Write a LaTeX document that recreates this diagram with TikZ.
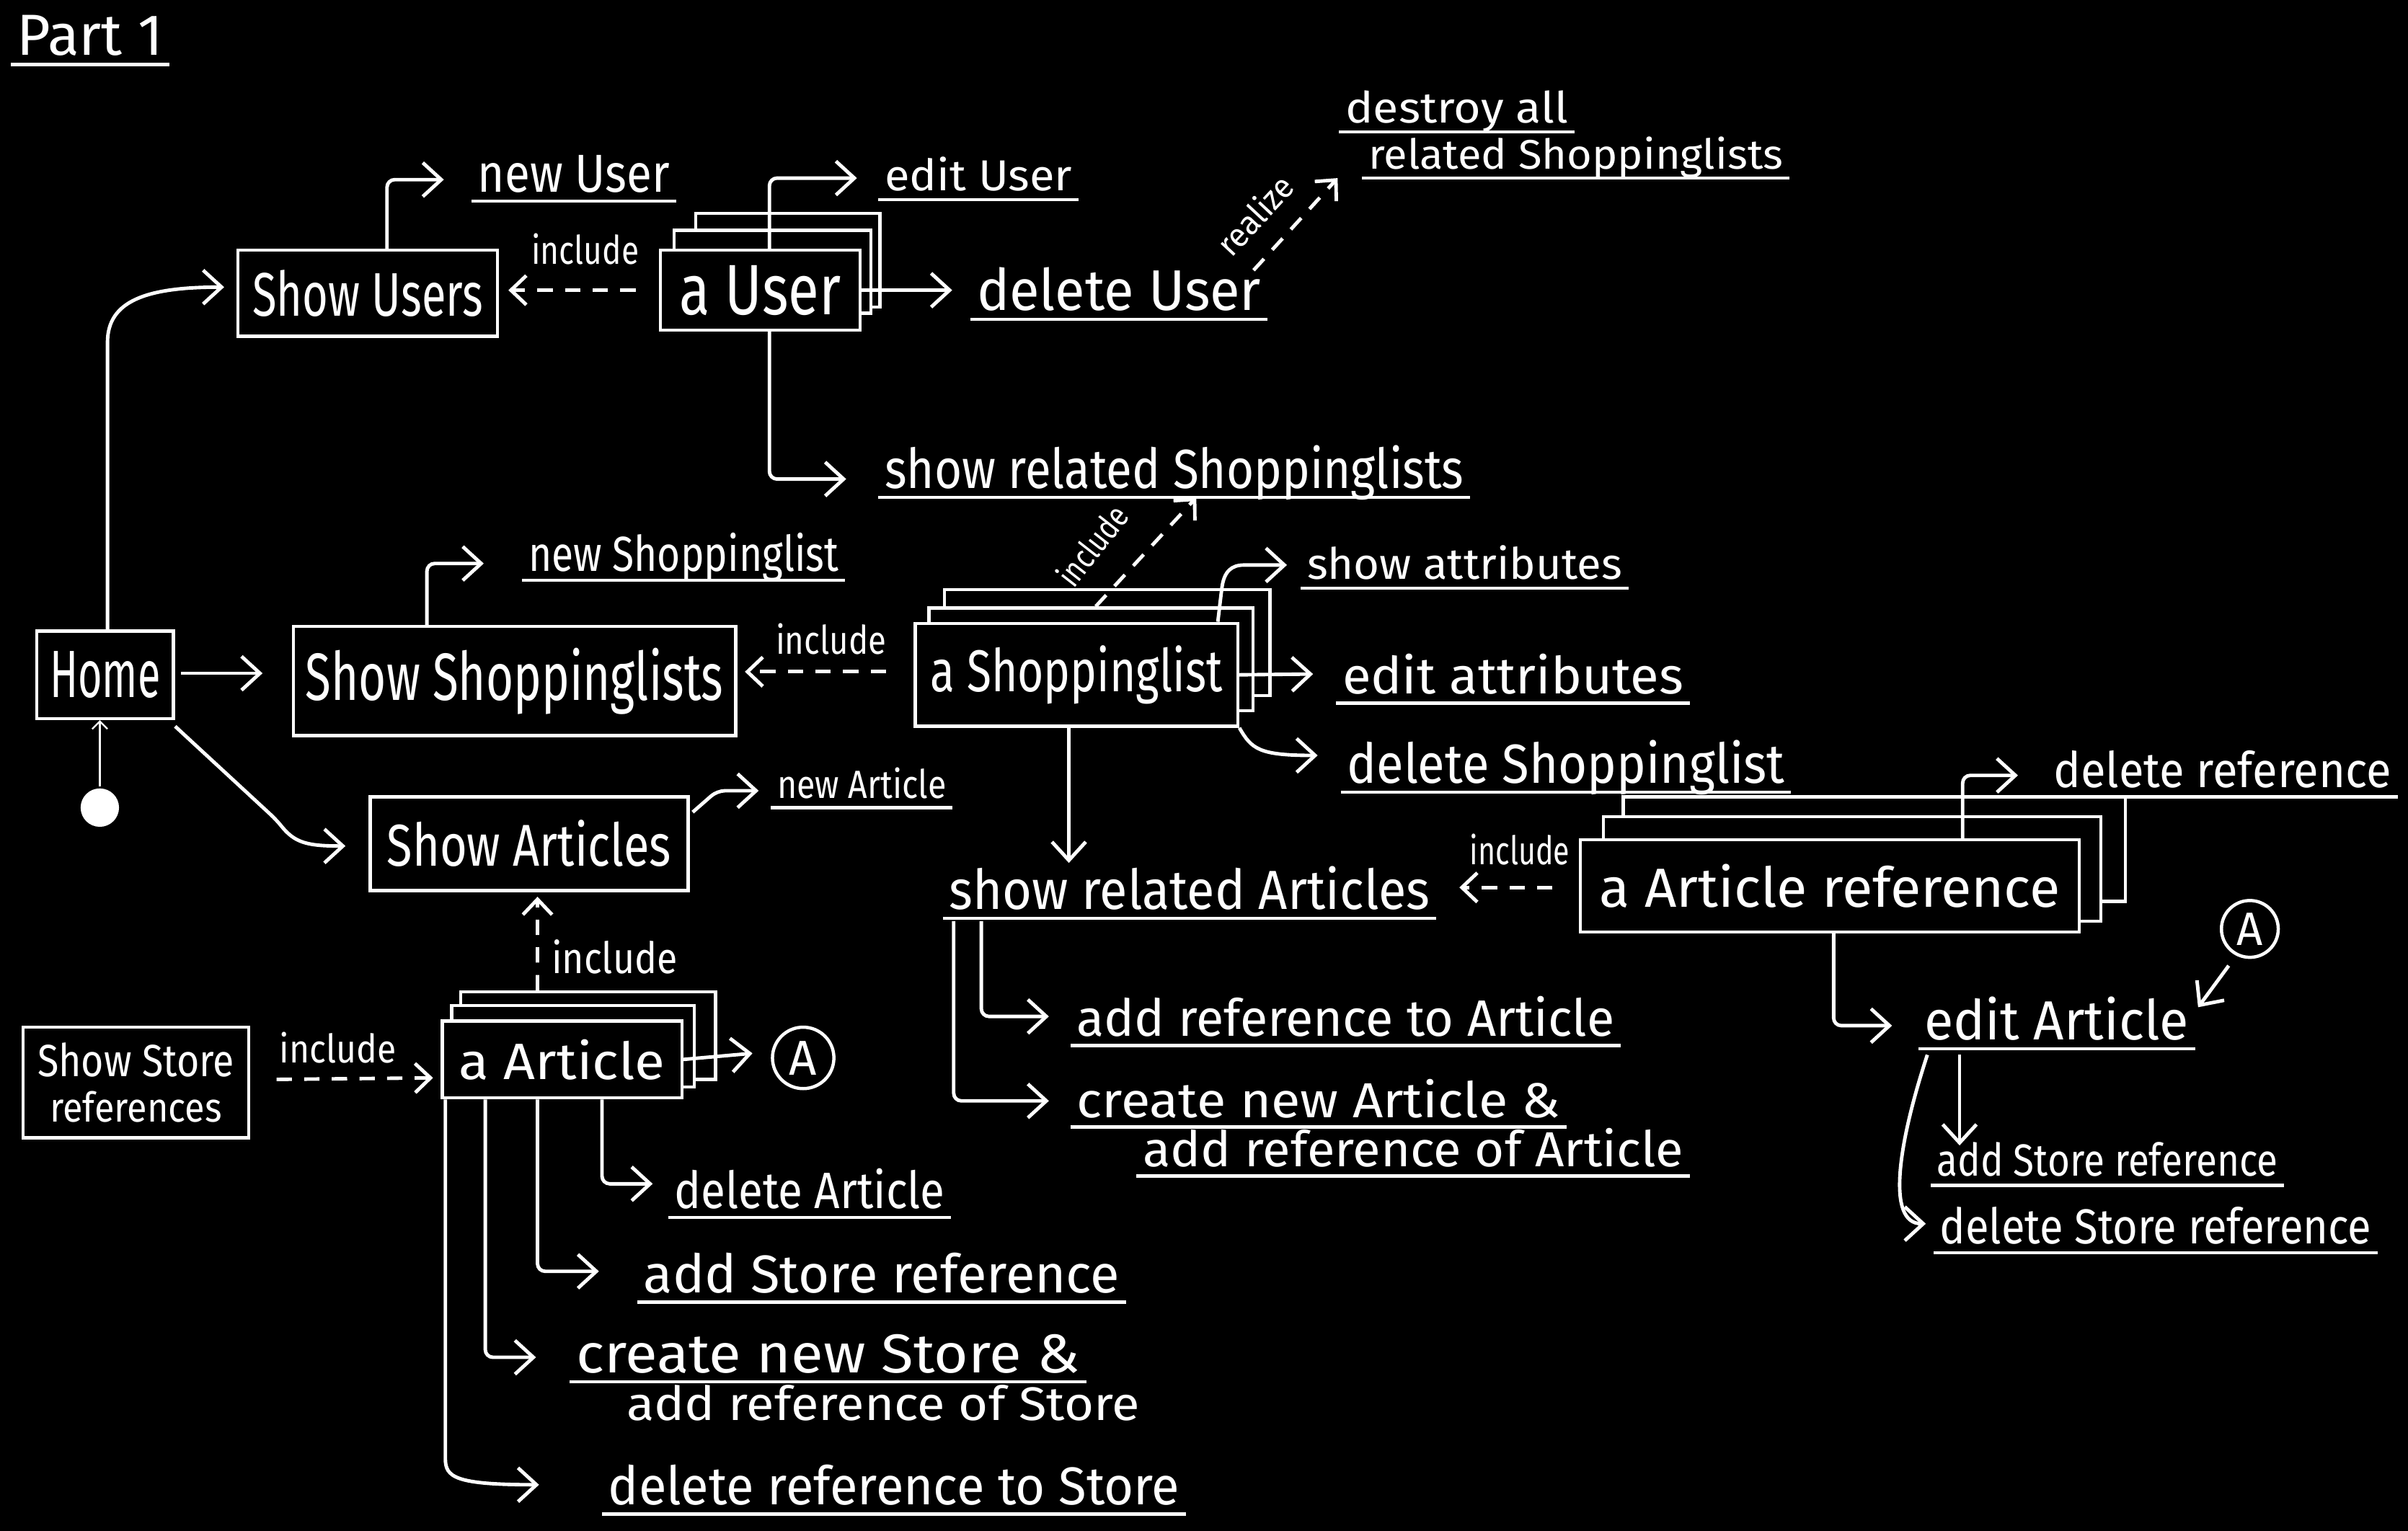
\documentclass[tikz,border=0pt]{standalone}
\usepackage{graphicx}
\usepackage{fontspec}
\setmainfont{Fira Sans}
\usetikzlibrary{arrows.meta,calc}
\newlength\pxu
\setlength\pxu{0.02cm}
\newcommand\hw[3]{\resizebox{#1\pxu}{#2\pxu}{#3}}
\begin{document}
\begin{tikzpicture}[x=0.02cm,y=-0.02cm,color=white,line width=1.3pt,
  box/.style={draw=white,fill=black,inner sep=0pt,line width=1.2pt},
  lbl/.style={inner xsep=0pt,inner ysep=0pt,anchor=base west},
  rlbl/.style={inner sep=0pt,anchor=center},
  ul/.style={append after command={($(\tikzlastnode.base west)+(-3,6)$) edge[draw=white,line width=1.2pt,-] ($(\tikzlastnode.base east)+(3,6)$)}},
  arr/.style={rounded corners=0.1cm,-{Straight Barb[length=0.24cm,width=0.44cm]}},
  dsh/.style={dash pattern=on 0.2cm off 0.16cm,-{Straight Barb[length=0.2cm,width=0.38cm]}}]
\fill[black] (0,0) rectangle (1568,997);
\useasboundingbox (0,0) rectangle (1568,997);

% title
\node[lbl,ul] (p1) at (10,36) {\hw{95}{26}{Part 1}};

% Home
\node[box,minimum width=89\pxu,minimum height=57\pxu] (h) at (68.5,439.5) {\hw{72}{30}{Home}};
\node[circle,fill=white,inner sep=0pt,minimum size=25\pxu] (dot) at (65,526) {};
\draw[line width=0.6pt,-{Straight Barb[length=0.1cm,width=0.2cm]}] (dot.north) -- (h.south -| dot.north);

% Users
\node[box,minimum width=169\pxu,minimum height=56\pxu] (su) at (239.5,191) {\hw{150}{30}{Show Users}};
\node[lbl,ul] (nu) at (310,125) {\hw{125}{24}{new User}};
\node[box,minimum width=120\pxu,minimum height=61\pxu] (au3) at (513,169.5) {};
\node[box,minimum width=128\pxu,minimum height=54\pxu] (au2) at (503,177) {};
\node[box,minimum width=130\pxu,minimum height=52\pxu] (au) at (495,189) {\hw{105}{32}{a User}};
\node[lbl] (inc1) at (345,172) {\hw{70}{20}{include}};
\node[lbl,ul] (eu) at (575,124) {\hw{122}{22}{edit User}};
\node[lbl,ul] (du) at (635,202) {\hw{185}{28}{delete User}};
\node[lbl,ul] (da) at (875,80) {\hw{145}{21}{destroy all}};
\node[lbl,ul] (rsl) at (890,110) {\hw{270}{21}{related Shoppinglists}};
\node[rlbl,rotate=47] (rl) at (817,140) {\hw{62}{17}{realize}};
\node[lbl,ul] (srsl) at (575,318) {\hw{377}{28}{show related Shoppinglists}};

\draw[arr] ($(h.north)+(1.5,0)$) -- (70,228) .. controls (70,196) and (95,187) .. ($(su.west)+(-8,-4)$);
\draw[arr] ($(su.north)+(12.5,0)$) |- ($(nu.base west)+(-21,-8)$);
\draw[dsh] ($(au.west)+(-15,0)$) -- ($(su.east)+(6,-2)$);
\draw[arr] ($(au.north)+(6,0)$) |- ($(eu.base west)+(-17,-8)$);
\draw[arr] (au.east) -- ($(du.base west)+(-15,-13)$);
\draw[arr] ($(au.south)+(6,0)$) |- ($(srsl.base west)+(-24,-6)$);
\draw[dsh] ($(du.base east)+(-6,-26)$) -- ($(rsl.base west)+(-19,6)$);

% Shoppinglists
\node[box,minimum width=288\pxu,minimum height=71\pxu] (ssl) at (335,443.5) {\hw{272}{34}{Show Shoppinglists}};
\node[lbl,ul] (nsl) at (343,372) {\hw{202}{25}{new Shoppinglist}};
\node[box,minimum width=212\pxu,minimum height=69\pxu] (asl3) at (721,418.5) {};
\node[box,minimum width=211\pxu,minimum height=67\pxu] (asl2) at (710.5,429.5) {};
\node[box,minimum width=210\pxu,minimum height=67\pxu] (asl) at (701,439.5) {\hw{190}{30}{a Shoppinglist}};
\node[lbl] (inc2) at (504,426) {\hw{72}{20}{include}};
\node[rlbl,rotate=52] (inc3) at (711,355) {\hw{60}{17}{include}};
\node[lbl,ul] (sat) at (850,377) {\hw{205}{22}{show attributes}};
\node[lbl,ul] (eat) at (873,452) {\hw{222}{26}{edit attributes}};
\node[lbl,ul] (dsl) at (876,510) {\hw{285}{28}{delete Shoppinglist}};
\node[lbl,ul] (sra) at (617,592) {\hw{313}{28}{show related Articles}};

\draw[arr] ($(h.east)+(4,-1)$) -- ($(ssl.west)+(-19,-5)$);
\draw[arr] ($(ssl.north)+(-57,0)$) |- ($(nsl.base west)+(-28,-5)$);
\draw[dsh] ($(asl.west)+(-18,-2)$) -- ($(ssl.east)+(5,-6)$);
\draw[dsh] ($(asl2.north)+(3,0)$) -- ($(srsl.base west)+(204,6)$);
\draw[arr] ($(asl.north)+(92,0)$) -- (795,388) .. controls (797,372) and (802,368) .. (815,368) -- ($(sat.base west)+(-12,-9)$);
\draw[arr] (asl.east) -- ($(eat.base west)+(-18,-13)$);
\draw[arr] (asl.south east) .. controls (815,488) and (820,492) .. ($(dsl.base west)+(-18,-18)$);
\draw[arr] ($(asl.south)+(-5,0)$) -- ($(sra.base west)+(79,-30)$);

% Articles
\node[box,minimum width=207\pxu,minimum height=61\pxu] (sart) at (344.5,549.5) {\hw{185}{30}{Show Articles}};
\node[lbl,ul] (na) at (505,520) {\hw{110}{20}{new Article}};
\node[box,minimum width=166\pxu,minimum height=57\pxu] (aa3) at (383,674.5) {};
\node[box,minimum width=158\pxu,minimum height=53\pxu] (aa2) at (373,681.5) {};
\node[box,minimum width=156\pxu,minimum height=50\pxu] (aa) at (366,690) {\hw{134}{26}{a Article}};
\node[lbl] (inc4) at (358,634) {\hw{82}{22}{include}};
\node[box,minimum width=147\pxu,minimum height=72\pxu,align=center] (ssr) at (88.5,705) {\hw{128}{22}{Show Store}\\[0.17cm]\hw{112}{20}{references}};
\node[lbl] (inc5) at (181,692) {\hw{76}{20}{include}};
\node[circle,draw=white,line width=1.2pt,minimum size=40\pxu,inner sep=0pt] (A1) at (523,689) {\hw{18}{22}{A}};
\node[lbl,ul] (dart) at (438,787) {\hw{176}{26}{delete Article}};
\node[lbl,ul] (asr) at (418,842) {\hw{310}{26}{add Store reference}};
\node[lbl,ul] (cns) at (374,894) {\hw{328}{25}{create new Store \&}};
\node[lbl] (ars) at (407,925) {\hw{334}{23}{add reference of Store}};
\node[lbl,ul] (drs) at (395,980) {\hw{372}{26}{delete reference to Store}};

\draw[arr] ($(h.south east)+(0,4)$) -- (180,534) .. controls (192,549) and (200,551) .. ($(sart.west)+(-15,1.5)$);
\draw[arr] ($(sart.north east)+(2,11)$) -- (467,515) -- ($(na.base west)+(-11,-5)$);
\draw[dsh] ($(aa3.north)+(-33,0)$) -- ($(sart.south)+(5.5,3)$);
\draw[dsh] ($(ssr.east)+(17,-2)$) -- ($(aa.west)+(-5,12)$);
\draw[arr] (aa.east) -- ($(A1.west)+(-12,-3)$);
\draw[arr] ($(aa.south)+(26,0)$) |- ($(dart.base west)+(-13,-16)$);
\draw[arr] ($(aa.south)+(-16,0)$) |- ($(asr.base west)+(-28,-14)$);
\draw[arr] ($(aa.south)+(-50,0)$) |- ($(cns.base west)+(-25,-10)$);
\draw[arr] ($(aa.south)+(-76,0)$) -- (290,945) .. controls (290,962) and (296,967) .. ($(drs.base west)+(-44,-13)$);

% related Articles
\node[lbl,ul] (ara) at (700,675) {\hw{350}{26}{add reference to Article}};
\node[lbl,ul] (cna) at (700,728) {\hw{315}{25}{create new Article \&}};
\node[lbl,ul] (arar) at (743,760) {\hw{352}{25}{add reference of Article}};
\draw[arr] ($(sra.base west)+(22,8)$) |- ($(ara.base west)+(-17,-13)$);
\draw[arr] ($(sra.base west)+(4,8)$) |- ($(cna.base west)+(-17,-11)$);

% Article reference
\node[box,minimum width=327\pxu,minimum height=68\pxu] (ar3) at (1220.5,553) {};
\node[box,minimum width=324\pxu,minimum height=68\pxu] (ar2) at (1206,566) {};
\node[box,minimum width=325\pxu,minimum height=60\pxu] (ar) at (1191.5,577) {\hw{300}{28}{a Article reference}};
\node[lbl] (inc6) at (956,563) {\hw{65}{20}{include}};
\node[lbl,ul] (dr) at (1336,513) {\hw{220}{24}{delete reference}};
\node[lbl,ul] (ea2) at (1252,677) {\hw{172}{28}{edit Article}};
\node[circle,draw=white,line width=1.2pt,minimum size=37\pxu,inner sep=0pt] (A2) at (1465,605) {\hw{17}{21}{A}};
\node[lbl,ul] (asr2) at (1260,766) {\hw{222}{22}{add Store reference}};
\node[lbl,ul] (dss) at (1262,810) {\hw{281}{24}{delete Store reference}};

\draw[dsh] ($(ar.west)+(-17,1)$) -- ($(sra.base east)+(18,-14)$);
\draw[arr] ($(ar.north)+(86.5,0)$) |- ($(dr.base west)+(-22,-8)$);
\draw[arr] ($(ar.south)+(2.5,0)$) |- ($(ea2.base west)+(-20,-9)$);
\draw[arr] ($(A2.240)+(-4,7)$) -- ($(ea2.base east)+(5,-21)$);
\draw[arr] ($(ea2.base west)+(24,10)$) -- ($(asr2.base west)+(16,-20)$);
\draw[arr] ($(ea2.base west)+(3,10)$) .. controls (1236,745) and (1228,797) .. ($(dss.base west)+(-8,-13)$);
\end{tikzpicture}
\end{document}
